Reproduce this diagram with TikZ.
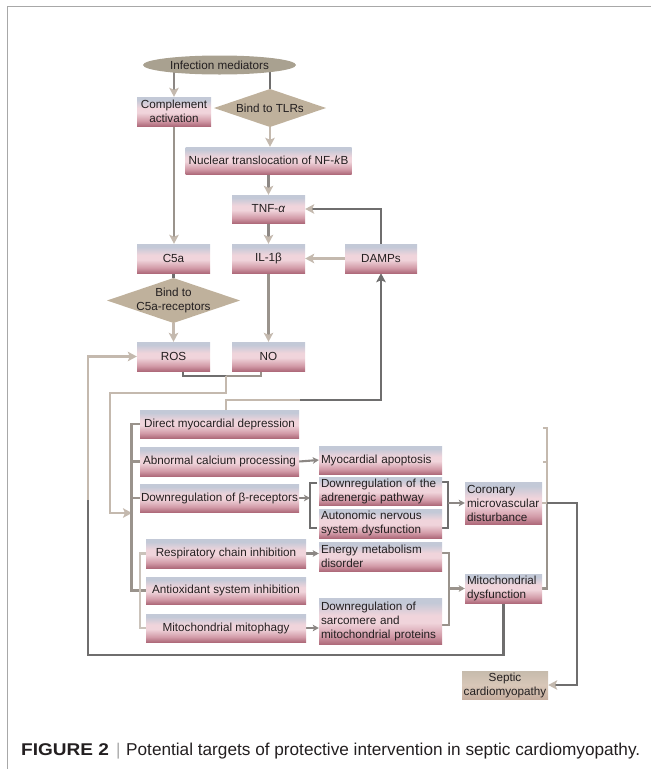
\documentclass[tikz,border=0pt]{standalone}
\usepackage{fontspec}
\setmainfont{Liberation Sans}
\usetikzlibrary{shapes.geometric,arrows.meta}
\definecolor{btop}{HTML}{C3C9D7}
\definecolor{bmid}{HTML}{F0D4DB}
\definecolor{bdeep}{HTML}{D29BA8}
\definecolor{bbot}{HTML}{AF6B7B}
\definecolor{stop}{HTML}{C6BBAC}
\definecolor{smid}{HTML}{D8C7B8}
\definecolor{sbot}{HTML}{C7AE9F}
\definecolor{txt}{HTML}{231F20}
\definecolor{diafill}{HTML}{BFB19C}
\definecolor{ellfill}{HTML}{A9A190}
\definecolor{clight}{HTML}{C4B9AE}
\definecolor{clight2}{HTML}{CBC3BB}
\definecolor{cmid}{HTML}{9A938C}
\definecolor{cgray}{HTML}{8C8784}
\definecolor{cdark}{HTML}{6F6E6E}
\definecolor{framec}{HTML}{A8A8A8}
\pgfdeclareverticalshading{boxshade}{100bp}{color(0bp)=(bbot); color(25bp)=(bbot); color(34bp)=(bdeep); color(48bp)=(bmid); color(56bp)=(bmid); color(70bp)=(btop); color(100bp)=(btop)}
\pgfdeclareverticalshading{sepshade}{100bp}{color(0bp)=(sbot); color(25bp)=(sbot); color(50bp)=(smid); color(75bp)=(stop); color(100bp)=(stop)}
\pgfdeclarelayer{bg}
\pgfsetlayers{bg,main}
\newcommand\fs{\fontsize{11.7}{14}\selectfont}
\begin{document}
\begin{tikzpicture}[x=1pt,y=-1pt,
  bx/.style={shade, shading=boxshade, inner xsep=1pt, inner ysep=0.5pt, font=\fs, text=txt, align=center},
  bxl/.style={bx, align=left, inner xsep=2pt},
  dia/.style={inner sep=0pt, font=\fs, text=txt, align=center,
    path picture={\fill[diafill] (path picture bounding box.west) -- (path picture bounding box.north) -- (path picture bounding box.east) -- (path picture bounding box.south) -- cycle;}},
  ln/.style={line width=2.8pt},
  sl/.style={line width=2.1pt},
  arr/.style={-{Stealth[length=9pt,width=9.5pt,inset=2pt]}},
  arrl/.style={-{Stealth[length=9pt,width=9.5pt,inset=2pt,color=clight]}},
  sarr/.style={-{Stealth[length=6pt,width=6.5pt,inset=1.5pt]}},
]
\useasboundingbox (0,0) rectangle (651,769);
\draw[framec, line width=1pt] (7,769) -- (7,6) -- (651,6);

% ---------- nodes ----------
\node[ellipse, fill=ellfill, minimum width=153pt, minimum height=19pt, inner sep=0pt, font=\fs, text=txt] (inf) at (219.5,65) {Infection mediators};
\node[bx, minimum width=74pt, minimum height=29pt] (comp) at (174,111.5) {Complement\\activation};
\node[dia, minimum width=112pt, minimum height=38pt] (tlr) at (270,108) {Bind to TLRs};
\node[bx, minimum width=166pt, minimum height=27pt] (nuc) at (268.5,160.5) {Nuclear translocation of NF-\textit{k}B};
\node[bx, minimum width=73pt, minimum height=28pt] (tnf) at (268.5,209) {TNF-\textit{α}};
\node[bx, minimum width=73pt, minimum height=29pt] (c5a) at (173.5,258.5) {C5a};
\node[bx, minimum width=73pt, minimum height=29pt] (il) at (268.5,258.5) {IL-1β};
\node[bx, minimum width=72pt, minimum height=29pt] (damps) at (381,258.5) {DAMPs};
\node[dia, minimum width=133pt, minimum height=45pt] (c5r) at (173.5,300.5) {Bind to\\C5a-receptors};
\node[bx, minimum width=73pt, minimum height=29pt] (ros) at (173.5,356.5) {ROS};
\node[bx, minimum width=73pt, minimum height=29pt] (no) at (268.5,356.5) {NO};

\node[bx, minimum width=159pt, minimum height=28pt] (dir) at (219.5,424) {Direct myocardial depression};
\node[bx, minimum width=159pt, minimum height=29pt] (abn) at (219.5,461.5) {Abnormal calcium processing};
\node[bx, minimum width=159pt, minimum height=28pt] (beta) at (219.5,498) {Downregulation of β-receptors};
\node[bx, minimum width=160pt, minimum height=29pt] (resp) at (226,553.5) {Respiratory chain inhibition};
\node[bx, minimum width=160pt, minimum height=27pt] (anti) at (226,590.5) {Antioxidant system inhibition};
\node[bx, minimum width=160pt, minimum height=28pt] (mitoph) at (226,628) {Mitochondrial mitophagy};

\node[bxl, text width=119pt, minimum height=28pt] (apo) at (380.5,460) {Myocardial apoptosis};
\node[bxl, text width=119pt, minimum height=28pt] (adr) at (380.5,491) {Downregulation of the\\adrenergic pathway};
\node[bxl, text width=119pt, minimum height=29pt] (aut) at (380.5,523.5) {Autonomic nervous\\system dysfunction};
\node[bxl, text width=119pt, minimum height=29pt] (ene) at (380.5,556.5) {Energy metabolism\\disorder};
\node[bxl, text width=119pt, minimum height=46pt] (sarc) at (380.5,621) {Downregulation of\\sarcomere and\\mitochondrial proteins};
\node[bxl, text width=73pt, minimum height=42pt] (cor) at (503.5,503) {Coronary\\microvascular\\disturbance};
\node[bxl, text width=73pt, minimum height=29pt] (mitod) at (503.5,588.5) {Mitochondrial\\dysfunction};
\node[bx, shading=sepshade, minimum width=86pt, minimum height=28pt] (sep) at (505,685) {Septic\\cardiomyopathy};

% ---------- helper coordinates ----------
\coordinate (rj) at (183,371);
\coordinate (nj) at (261,371);
\coordinate (jm) at (226,376);
\coordinate (dt) at (226,410);
\coordinate (bl) at (132,513);
\coordinate (br1) at (310,498);
\coordinate (br2) at (448,503);
\coordinate (br3) at (449,588.5);
\coordinate (bR) at (547,503);

% ---------- connectors ----------
\begin{pgfonlayer}{bg}
\draw[ln, cgray, arrl] (inf.center -| comp.north) -- (comp.north);
\draw[ln, cdark] (inf.center -| tlr.north) -- (tlr.north);
\draw[ln, clight, arr] (tlr.south) -- (tlr.south |- nuc.north);
\draw[ln, cmid, arrl] (comp.south) -- (comp.south |- c5a.north);
\draw[ln, cgray, arrl] (nuc.south -| tnf.north) -- (tnf.north);
\draw[ln, cgray, arrl] (tnf.south) -- (il.north);
\draw[ln, clight, arr] (damps.west) -- (il.east);
\draw[ln, cdark, arrl] (damps.north) |- (tnf.east);
\draw[ln, cdark] (c5a.south) -- (c5r.north);
\draw[ln, clight, arr] (c5r.south) -- (ros.north);
\draw[ln, cmid, arrl] (il.south) -- (no.north);
% ROS/NO junction
\draw[ln, cdark] (rj) |- (jm);
\draw[ln, cmid] (jm) -| (nj);
\draw[ln, clight, arr] (jm) -- ++(0,17) -| (110,500) |- (bl);
% direct myocardial depression -> DAMPs
\draw[ln, clight] (dt) |- (300,400);
\draw[ln, cdark, arr] (300,400) -| (damps.south);
% mitochondrial dysfunction loop -> ROS
\draw[ln, cdark] (mitod.south) |- (88,655) -- (88,500);
\draw[ln, clight, arr] (88,500) |- (ros.west);
% left bracket
\draw[ln, cmid] (dir.west) -- ++(-8,0) |- (anti.west);
\draw[sl, cmid] (abn.west) -- ++(-8,0);
\draw[sl, cmid] (beta.west) -- ++(-8,0);
\draw[sl, clight2] (resp.west) -- ++(-6,0) |- (mitoph.west);
% small arrows
\draw[sl, cgray, sarr] (abn.east) -- (apo.west);
\draw[sl, cgray, sarr] (beta.east) -- (br1);
\draw[sl, cdark] (317,483) -- (310,483) -- (310,528) -- (317,528);
\draw[sl, cdark] (442,482) -- (448,482) -- (448,528) -- (442,528);
\draw[sl, cgray, sarr] (br2) -- (cor.west);
\draw[sl, cgray, sarr] (resp.east) -- (resp.east -| ene.west);
\draw[sl, cgray, sarr] (mitoph.east) -- (mitoph.east -| sarc.west);
\draw[sl, cmid] (442,553) -- (449,553) -- (449,625) -- (442,625);
\draw[sl, cmid, sarr] (br3) -- (mitod.west);
% right bracket
\draw[sl, clight] (543,428) -- (547,428) -- (547,503);
\draw[sl, clight] (543,462) -- (547,462);
\draw[sl, cmid] (547,503) |- (mitod.east);
\draw[sl, clight] (cor.east) -- (bR);
\draw[ln, cdark, arrl] (bR) -- (577,503) |- (sep.east);
\end{pgfonlayer}

% ---------- caption ----------
\node[anchor=base west, inner sep=0pt, text=txt] (figlab) at (21,755) {\scalebox{1.12}[1]{\fontsize{17}{20}\selectfont\bfseries FIGURE 2}};
\node[anchor=base west, inner sep=0pt, text=framec] (bar) at (116,755) {\fontsize{17}{20}\selectfont |};
\node[anchor=base west, inner sep=0pt, text=txt] (cap) at (126,755) {\fontsize{17.2}{20}\selectfont Potential targets of protective intervention in septic cardiomyopathy.};
\end{tikzpicture}
\end{document}
